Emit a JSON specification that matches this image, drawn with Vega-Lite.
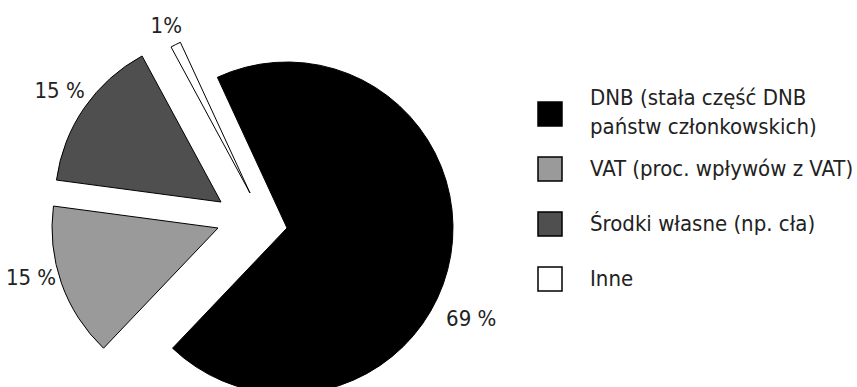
{
  "$schema": "https://vega.github.io/schema/vega-lite/v6.json",
  "width": 857,
  "height": 387,
  "autosize": "none",
  "padding": 0,
  "background": "white",
  "config": {"view": {"stroke": null}},
  "data": {
    "values": [
      {"cat": "DNB (stała część DNB państw członkowskich)", "value": 69, "k": 1, "label": "69 %"},
      {"cat": "VAT (proc. wpływów z VAT)", "value": 15, "k": 2, "label": "15 %"},
      {"cat": "Środki własne (np. cła)", "value": 15, "k": 3, "label": "15 %"},
      {"cat": "Inne", "value": 1, "k": 4, "label": "1%"}
    ]
  },
  "layer": [
    {
      "transform": [
        {"stack": "value", "groupby": [], "sort": [{"field": "k", "order": "ascending"}], "as": ["v0", "v1"]},
        {"filter": "datum.k == 1"}
      ],
      "mark": {"type": "arc", "radius": 166, "stroke": "black", "strokeWidth": 1, "xOffset": -141.5, "yOffset": 34.5},
      "encoding": {
        "theta": {"field": "v0", "type": "quantitative", "scale": {"domain": [0, 100], "range": [-0.4329, 5.8503]}},
        "theta2": {"field": "v1"},
        "color": {
          "field": "cat", "type": "nominal",
          "scale": {
            "domain": ["DNB (stała część DNB państw członkowskich)", "VAT (proc. wpływów z VAT)", "Środki własne (np. cła)", "Inne"],
            "range": ["#000000", "#9a9a9a", "#4f4f4f", "#ffffff"]
          },
          "legend": {
            "title": null,
            "orient": "none",
            "legendX": 537,
            "legendY": 101,
            "padding": 0,
            "rowPadding": -11,
            "symbolType": "M0,-2.46M0,2.46M-1,-1H1V1H-1Z",
            "symbolSize": 576,
            "symbolStrokeColor": "black",
            "symbolStrokeWidth": 1.5,
            "symbolOpacity": 1,
            "labelFont": "DejaVu Sans Condensed",
            "labelFontSize": 22,
            "labelColor": "#222222",
            "labelOffset": 27,
            "labelLimit": 400,
            "labelExpr": "datum.label == 'DNB (stała część DNB państw członkowskich)' ? ['DNB (stała część DNB', 'państw członkowskich)'] : datum.label",
            "encode": {
              "symbols": {"update": {"stroke": {"value": "black"}, "strokeWidth": {"value": 1.5}, "opacity": {"value": 1}}},
              "labels": {"update": {"lineHeight": {"value": 29}, "dy": {"signal": "datum.index == 0 ? -16 : 0"}}}
            }
          }
        }
      }
    },
    {
      "transform": [
        {"stack": "value", "groupby": [], "sort": [{"field": "k", "order": "ascending"}], "as": ["v0", "v1"]},
        {"filter": "datum.k == 2"}
      ],
      "mark": {"type": "arc", "radius": 166, "stroke": "black", "strokeWidth": 1, "xOffset": -210.5, "yOffset": 34.5},
      "encoding": {
        "theta": {"field": "v0", "type": "quantitative"},
        "theta2": {"field": "v1"},
        "color": {"field": "cat", "type": "nominal"}
      }
    },
    {
      "transform": [
        {"stack": "value", "groupby": [], "sort": [{"field": "k", "order": "ascending"}], "as": ["v0", "v1"]},
        {"filter": "datum.k == 3"}
      ],
      "mark": {"type": "arc", "radius": 166, "stroke": "black", "strokeWidth": 1, "xOffset": -207.5, "yOffset": 8.5},
      "encoding": {
        "theta": {"field": "v0", "type": "quantitative"},
        "theta2": {"field": "v1"},
        "color": {"field": "cat", "type": "nominal"}
      }
    },
    {
      "transform": [
        {"stack": "value", "groupby": [], "sort": [{"field": "k", "order": "ascending"}], "as": ["v0", "v1"]},
        {"filter": "datum.k == 4"}
      ],
      "mark": {"type": "arc", "radius": 166, "stroke": "black", "strokeWidth": 1, "xOffset": -178.5, "yOffset": -0.5},
      "encoding": {
        "theta": {"field": "v0", "type": "quantitative"},
        "theta2": {"field": "v1"},
        "color": {"field": "cat", "type": "nominal"}
      }
    },
    {
      "mark": {"type": "text", "radius": 205, "xOffset": -141.5, "yOffset": 34.5, "dx": -18, "dy": 58, "font": "DejaVu Sans Condensed", "fontSize": 22, "fill": "#222222", "align": "center", "baseline": "middle"},
      "encoding": {
        "theta": {"field": "value", "type": "quantitative", "stack": true},
        "order": {"field": "k", "type": "quantitative"},
        "text": {"condition": {"test": "datum.k == 1", "field": "label"}, "value": ""}
      }
    },
    {
      "mark": {"type": "text", "radius": 194, "xOffset": -210.5, "yOffset": 34.5, "dx": -4, "dy": -14, "font": "DejaVu Sans Condensed", "fontSize": 22, "fill": "#222222", "align": "center", "baseline": "middle"},
      "encoding": {
        "theta": {"field": "value", "type": "quantitative", "stack": true},
        "order": {"field": "k", "type": "quantitative"},
        "text": {"condition": {"test": "datum.k == 2", "field": "label"}, "value": ""}
      }
    },
    {
      "mark": {"type": "text", "radius": 196, "xOffset": -207.5, "yOffset": 8.5, "font": "DejaVu Sans Condensed", "fontSize": 22, "fill": "#222222", "align": "center", "baseline": "middle"},
      "encoding": {
        "theta": {"field": "value", "type": "quantitative", "stack": true},
        "order": {"field": "k", "type": "quantitative"},
        "text": {"condition": {"test": "datum.k == 3", "field": "label"}, "value": ""}
      }
    },
    {
      "mark": {"type": "text", "radius": 187, "xOffset": -178.5, "yOffset": -0.5, "font": "DejaVu Sans Condensed", "fontSize": 22, "fill": "#222222", "align": "center", "baseline": "middle"},
      "encoding": {
        "theta": {"field": "value", "type": "quantitative", "stack": true},
        "order": {"field": "k", "type": "quantitative"},
        "text": {"condition": {"test": "datum.k == 4", "field": "label"}, "value": ""}
      }
    }
  ]
}
